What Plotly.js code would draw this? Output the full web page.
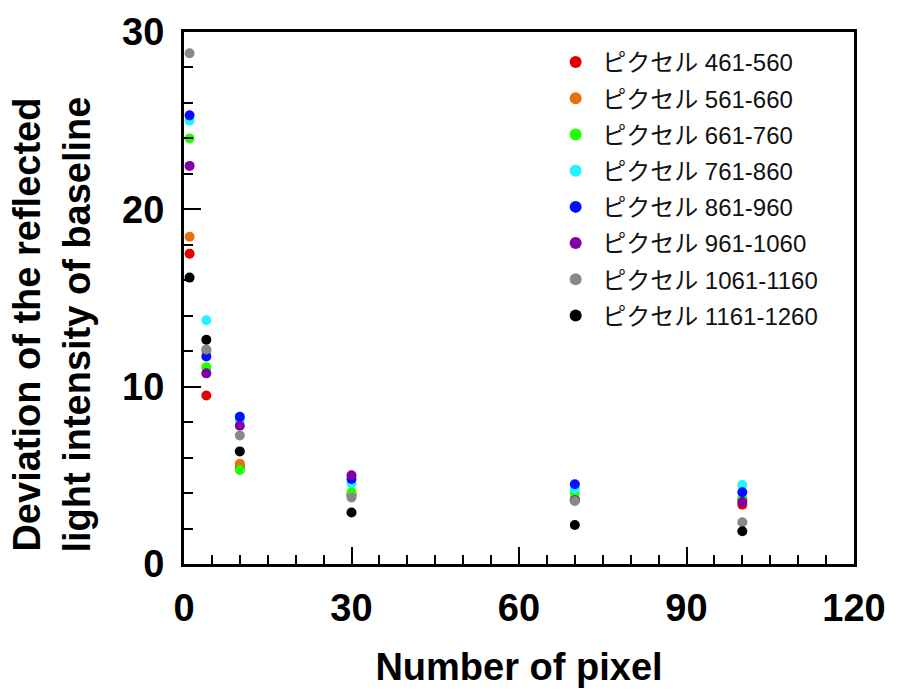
<!DOCTYPE html>
<html>
<head>
<meta charset="utf-8">
<script src="https://cdn.plot.ly/plotly-3.0.1.min.js"></script>
<style>html,body{margin:0;padding:0;background:#fff;}#chart{width:897px;height:692px;}</style>
</head>
<body>
<div id="chart"></div>
<script>
const pixels = [1, 4, 10, 30, 70, 100];
const seriesNames = ["ピクセル 461-560", "ピクセル 561-660", "ピクセル 661-760", "ピクセル 761-860",
  "ピクセル 861-960", "ピクセル 961-1060", "ピクセル 1061-1160", "ピクセル 1161-1260"];
const px461 = [17.5, 9.5, 5.5, 3.9, 3.6, 3.35];
const px561 = [18.45, 12.0, 5.65, 3.9, 3.65, 3.6];
const px661 = [24.0, 11.1, 5.3, 4.05, 4.0, 3.7];
const px761 = [25.0, 13.75, 8.1, 4.55, 4.25, 4.45];
const px861 = [25.3, 11.7, 8.3, 4.8, 4.5, 4.05];
const px961 = [22.45, 10.75, 7.8, 5.0, 3.6, 3.5];
const px1061 = [28.8, 12.1, 7.25, 3.75, 3.55, 2.35];
const px1161 = [16.15, 12.65, 6.35, 2.9, 2.2, 1.85];
const seriesValues = [px461, px561, px661, px761, px861, px961, px1061, px1161];
const colors = ["#e00000", "#e8700c", "#22ff00", "#22f4ff", "#0010ff", "#8000a8", "#888888", "#000000"];

const traces = seriesValues.map((vals, i) => ({
  type: "scatter", mode: "markers",
  x: pixels, y: vals, name: seriesNames[i], legendgroup: "g" + i,
  marker: {color: colors[i], size: 10}
}));

const tickFont = {family: "Liberation Sans, Arial, sans-serif", size: 38, color: "#000", weight: "bold"};
const layout = {
  width: 897, height: 692,
  margin: {l: 184, r: 43, t: 32, b: 127.5, pad: 0},
  paper_bgcolor: "#fff", plot_bgcolor: "#fff",
  showlegend: true,
  legend: {
    x: 0.545, y: 0.985, xanchor: "left", yanchor: "top",
    bgcolor: "rgba(0,0,0,0)", itemsizing: "constant", itemwidth: 43, tracegroupgap: 2,
    font: {family: "Liberation Sans, Noto Sans CJK JP, sans-serif", size: 24, color: "#111"}
  },
  xaxis: {
    range: [0, 120], dtick: 30, tick0: 0,
    showgrid: false, zeroline: false,
    showline: true, linecolor: "#000", linewidth: 3, mirror: true,
    ticks: "inside", ticklen: 17, tickwidth: 2, tickcolor: "#000",
    minor: {dtick: 5, ticks: "inside", ticklen: 9, tickwidth: 2, tickcolor: "#000", showgrid: false},
    tickfont: tickFont, ticklabelstandoff: 8,
    title: {text: "Number of pixel", font: tickFont, standoff: 26}
  },
  yaxis: {
    range: [0, 30], dtick: 10, tick0: 0,
    showgrid: false, zeroline: false,
    showline: true, linecolor: "#000", linewidth: 3, mirror: true,
    ticks: "inside", ticklen: 17, tickwidth: 2, tickcolor: "#000",
    minor: {dtick: 2, ticks: "inside", ticklen: 9, tickwidth: 2, tickcolor: "#000", showgrid: false},
    tickfont: tickFont, ticklabelstandoff: 9
  },
  annotations: [{
    xref: "paper", yref: "paper", x: -0.197, y: 0.45,
    xanchor: "center", yanchor: "middle", textangle: -90, showarrow: false,
    text: "Deviation of the reflected<br>light intensity of baseline",
    font: tickFont
  }]
};
Plotly.newPlot("chart", traces, layout, {displayModeBar: false, staticPlot: true});
</script>
</body>
</html>
